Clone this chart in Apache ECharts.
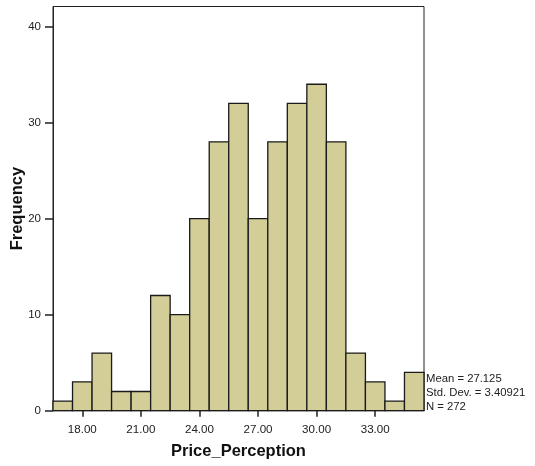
<!DOCTYPE html>
<html>
<head>
<meta charset="utf-8">
<script src="https://cdn.jsdelivr.net/npm/echarts@6/dist/echarts.min.js"></script>
<style>html,body{margin:0;padding:0;background:#fff}#c{width:535px;height:466px}</style>
</head>
<body>
<div id="c"></div>
<script>
// Bin centres (Price_Perception) and frequencies
var binCenters = [17, 18, 19, 20, 21, 22, 23, 24, 25, 26, 27, 28, 29, 30, 31, 32, 33, 34, 35];
var frequencies = [1, 3, 6, 2, 2, 12, 10, 20, 28, 32, 20, 28, 32, 34, 28, 6, 3, 1, 4];
var xTickValues = [18, 21, 24, 27, 30, 33];
var yTickValues = [0, 10, 20, 30, 40];
var statsLines = ['Mean = 27.125', 'Std. Dev. = 3.40921', 'N = 272'];
var binWidth = 1;

var data = binCenters.map(function (c, i) { return [c, frequencies[i]]; });
var chart = echarts.init(document.getElementById('c'), null, {renderer: 'canvas'});
var FONT = 'Liberation Sans, Arial, sans-serif';

chart.setOption({
  backgroundColor: '#fff',
  animation: false,
  grid: {left: 53, right: 111, top: 6.5, bottom: 55.3, containLabel: false, outerBoundsMode: 'none',
    show: true, borderColor: '#222', borderWidth: 1, backgroundColor: 'transparent'},
  xAxis: {
    type: 'value', min: 16.5, max: 35.5,
    name: 'Price_Perception', nameLocation: 'middle', nameGap: 32, nameMoveOverlap: false,
    nameTextStyle: {fontFamily: FONT, fontSize: 16.5, fontWeight: 'bold', color: '#111'},
    axisLine: {show: true, lineStyle: {color: '#222', width: 1}},
    axisTick: {show: true, length: 6, lineStyle: {color: '#222', width: 1.5}, customValues: xTickValues},
    axisLabel: {fontFamily: FONT, fontSize: 11.6, color: '#222', margin: 13.5, customValues: xTickValues,
      formatter: function (v) { return v.toFixed(2); }},
    splitLine: {show: false}
  },
  yAxis: {
    type: 'value', min: 0, max: 42.1,
    name: 'Frequency', nameLocation: 'middle', nameGap: 27, nameRotate: 90, nameMoveOverlap: false,
    nameTextStyle: {fontFamily: FONT, fontSize: 16.5, fontWeight: 'bold', color: '#111'},
    axisLine: {show: true, lineStyle: {color: '#222', width: 1}},
    axisTick: {show: true, length: 8, lineStyle: {color: '#222', width: 1.5}, customValues: yTickValues},
    axisLabel: {fontFamily: FONT, fontSize: 11.5, color: '#222', margin: 12, customValues: yTickValues},
    splitLine: {show: false}
  },
  series: [{
    type: 'custom',
    data: data,
    renderItem: function (params, api) {
      var c = api.value(0), v = api.value(1);
      var p0 = api.coord([c - binWidth / 2, v]);
      var p1 = api.coord([c + binWidth / 2, 0]);
      return {
        type: 'rect',
        shape: {x: p0[0], y: p0[1], width: p1[0] - p0[0], height: p1[1] - p0[1]},
        style: {fill: '#D3CE98', stroke: '#1a1a1a', lineWidth: 1.3}
      };
    }
  }],
  graphic: statsLines.map(function (t, i) {
    return {type: 'text', left: 426, top: 373 + i * 14.3,
      style: {text: t, fontFamily: FONT, fontSize: 11.3, fill: '#222'}};
  })
});
</script>
</body>
</html>
